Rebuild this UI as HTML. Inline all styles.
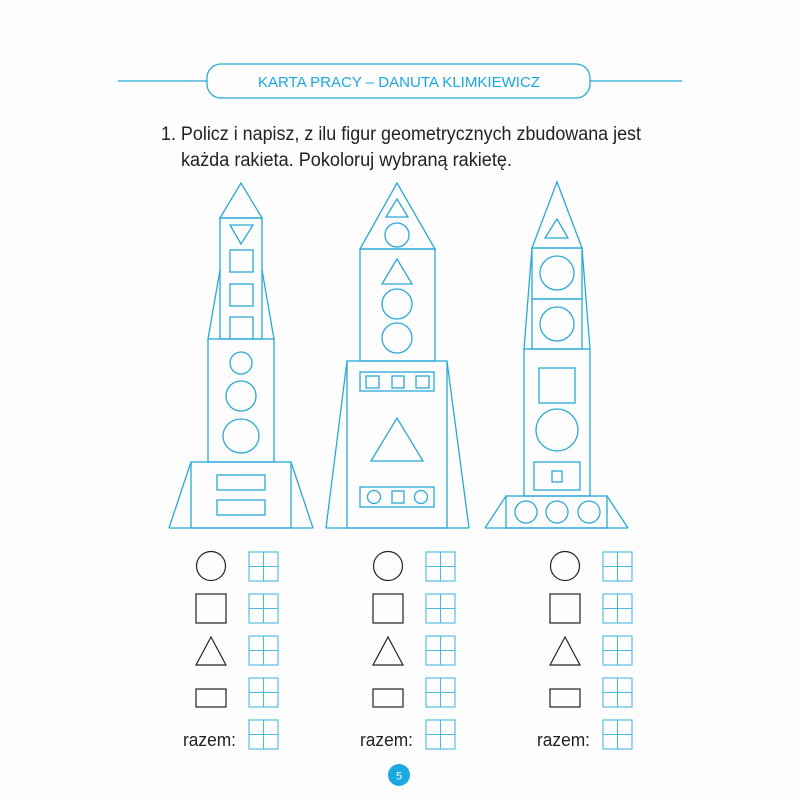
<!DOCTYPE html>
<html><head><style>html,body{margin:0;padding:0;background:#fff}</style></head><body>
<svg width="800" height="800" viewBox="0 0 800 800" xmlns="http://www.w3.org/2000/svg">
<rect width="800" height="800" fill="#fdfdfd"/>
<g fill="none" stroke="#2aa9d9" stroke-width="1.3">
<line x1="118" y1="81" x2="207" y2="81"/><line x1="590" y1="81" x2="682" y2="81"/>
<rect x="207" y="64" width="383" height="34" rx="14"/>
</g>
<text x="399" y="87" text-anchor="middle" font-family="Liberation Sans, sans-serif" font-size="15" fill="#1aa8e0" textLength="282" lengthAdjust="spacingAndGlyphs">KARTA PRACY – DANUTA KLIMKIEWICZ</text>
<g font-family="Liberation Sans, sans-serif" font-size="19" fill="#222">
<text x="161" y="140" textLength="480" lengthAdjust="spacingAndGlyphs">1. Policz i napisz, z ilu figur geometrycznych zbudowana jest</text>
<text x="181" y="166" textLength="331" lengthAdjust="spacingAndGlyphs">każda rakieta. Pokoloruj wybraną rakietę.</text>
</g>
<g fill="none" stroke="#2aa9d9" stroke-width="1.3">
<!-- rocket 1 -->
<polygon points="241,183 220,218 262,218"/>
<rect x="220" y="218" width="42" height="121"/>
<polygon points="230,225 253,225 241,244"/>
<rect x="230" y="250" width="23" height="22"/><rect x="230" y="284" width="23" height="22"/><polyline points="230,339 230,317 253,317 253,339"/>
<line x1="220" y1="270" x2="208" y2="339"/><line x1="262" y1="270" x2="274" y2="339"/>
<rect x="208" y="339" width="66" height="123"/>
<circle cx="241" cy="363" r="11"/><circle cx="241" cy="396" r="15"/><ellipse cx="241" cy="436" rx="18" ry="17"/>
<rect x="191" y="462" width="100" height="66"/>
<line x1="191" y1="462" x2="169" y2="528"/><line x1="291" y1="462" x2="313" y2="528"/><line x1="169" y1="528" x2="313" y2="528"/>
<rect x="217" y="475" width="48" height="15"/><rect x="217" y="500" width="48" height="15"/>
<!-- rocket 2 -->
<polygon points="397,183 360,249 435,249"/>
<polygon points="397,199 386,217 408,217"/>
<circle cx="397" cy="235" r="12"/>
<rect x="360" y="249" width="75" height="112"/>
<polygon points="397,259 382,284 412,284"/>
<circle cx="397" cy="304" r="15"/><circle cx="397" cy="338" r="15"/>
<rect x="347" y="361" width="100" height="167"/>
<line x1="347" y1="361" x2="326" y2="528"/><line x1="447" y1="361" x2="469" y2="528"/><line x1="326" y1="528" x2="469" y2="528"/>
<rect x="360" y="372" width="74" height="19"/>
<rect x="366" y="376" width="13" height="12"/><rect x="392" y="376" width="12" height="12"/><rect x="416" y="376" width="13" height="12"/>
<polygon points="397,418 371,461 423,461"/>
<rect x="360" y="487" width="74" height="20"/>
<circle cx="374" cy="497" r="6.5"/><rect x="392" y="491" width="12" height="12"/><circle cx="421" cy="497" r="6.5"/>
<!-- rocket 3 -->
<polygon points="557,182 532,248 582,248"/>
<polygon points="557,219 545,238 568,238"/>
<rect x="532" y="248" width="50" height="51"/><rect x="532" y="299" width="50" height="50"/>
<circle cx="557" cy="273" r="17"/><circle cx="557" cy="324" r="17"/>
<line x1="532" y1="248" x2="524" y2="349"/><line x1="582" y1="248" x2="590" y2="349"/>
<rect x="524" y="349" width="66" height="147"/>
<rect x="539" y="368" width="36" height="35"/>
<circle cx="557" cy="430" r="21"/>
<rect x="534" y="462" width="46" height="28"/><rect x="552" y="471" width="10" height="11"/>
<rect x="506" y="496" width="101" height="32"/>
<line x1="506" y1="496" x2="485" y2="528"/><line x1="607" y1="496" x2="628" y2="528"/><line x1="485" y1="528" x2="628" y2="528"/>
<circle cx="526" cy="512" r="11"/><circle cx="557" cy="512" r="11"/><circle cx="589" cy="512" r="11"/>
</g>
<defs>
<g id="col">
<g fill="none" stroke="#222" stroke-width="1.2">
<circle cx="211" cy="566" r="14.5"/>
<rect x="196" y="594" width="30" height="29"/>
<polygon points="211,637 196,665 226,665"/>
<rect x="196" y="689" width="30" height="18"/>
</g>
<g fill="none" stroke="#4bbbe0" stroke-width="1.1">
<rect x="249" y="552" width="29" height="29"/><line x1="263.5" y1="552" x2="263.5" y2="581"/><line x1="249" y1="566.5" x2="278" y2="566.5"/>
<rect x="249" y="594" width="29" height="29"/><line x1="263.5" y1="594" x2="263.5" y2="623"/><line x1="249" y1="608.5" x2="278" y2="608.5"/>
<rect x="249" y="636" width="29" height="29"/><line x1="263.5" y1="636" x2="263.5" y2="665"/><line x1="249" y1="650.5" x2="278" y2="650.5"/>
<rect x="249" y="678" width="29" height="29"/><line x1="263.5" y1="678" x2="263.5" y2="707"/><line x1="249" y1="692.5" x2="278" y2="692.5"/>
<rect x="249" y="720" width="29" height="29"/><line x1="263.5" y1="720" x2="263.5" y2="749"/><line x1="249" y1="734.5" x2="278" y2="734.5"/>
</g>
<text x="183" y="746" font-family="Liberation Sans, sans-serif" font-size="18" fill="#222" textLength="53" lengthAdjust="spacingAndGlyphs">razem:</text>
</g>
</defs>
<use href="#col"/>
<use href="#col" x="177"/>
<use href="#col" x="354"/>
<circle cx="399" cy="775" r="11" fill="#1aa8e0"/>
<text x="399" y="779.5" text-anchor="middle" font-family="Liberation Sans, sans-serif" font-size="11" fill="#fff">5</text>
</svg>
</body></html>
